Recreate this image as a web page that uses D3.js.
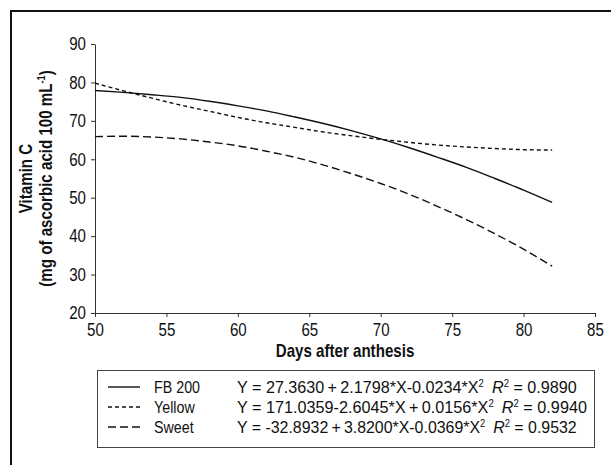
<!DOCTYPE html>
<html>
<head>
<meta charset="utf-8">
<script src="https://cdn.jsdelivr.net/npm/d3@7"></script>
<style>
    body { margin: 0; background: white; }
    svg { display: block; font-family: 'Liberation Sans', Arial, sans-serif; }
    .axis path, .axis line { stroke: #333; }
    .axis text { font-size: 18px; fill: #111; }
    .title { font-size: 18px; font-weight: bold; fill: #111; }
    .legend text { font-size: 17px; fill: #111; }
</style>
</head>
<body>
<div id="chart"></div>
<script>
var days = [50, 52, 54, 56, 58, 60, 62, 64, 66, 68, 70, 72, 74, 76, 78, 80, 82]
var fb200 = [77.9, 77.4, 76.8, 76.1, 75.1, 73.9, 72.6, 71.0, 69.3, 67.4, 65.3, 63.0, 60.5, 57.9, 55.0, 52.0, 48.8]
var yellow = [79.8, 77.8, 75.9, 74.1, 72.5, 70.9, 69.5, 68.3, 67.1, 66.1, 65.2, 64.4, 63.7, 63.2, 62.8, 62.5, 62.4]
var sweet = [65.9, 66.0, 65.8, 65.3, 64.5, 63.5, 62.1, 60.5, 58.5, 56.2, 53.7, 50.9, 47.7, 44.3, 40.6, 36.6, 32.2]

var xTicks = [50, 55, 60, 65, 70, 75, 80, 85]
var yTicks = [20, 30, 40, 50, 60, 70, 80, 90]

var seriesNames = ['FB 200', 'Yellow', 'Sweet']
var seriesValues = [fb200, yellow, sweet]
var dashes = ['none', '4,3', '8,4']
var equations = [
    ['27.3630\u2009+\u20092.1798*X-0.0234*X', '0.9890'],
    ['171.0359-2.6045*X\u2009+\u20090.0156*X', '0.9940'],
    ['-32.8932\u2009+\u20093.8200*X-0.0369*X', '0.9532']
]

var width = 611, height = 465
var narrow = 0.84 // no condensed font installed, squeeze glyphs instead

var svg = d3.select('#chart').append('svg')
    .attr('width', width)
    .attr('height', height)

svg.append('rect')
    .attr('width', width)
    .attr('height', height)
    .attr('fill', 'white')

// outer frame, runs off the right and bottom edges
svg.append('rect')
    .attr('x', 11)
    .attr('y', 11)
    .attr('width', 640)
    .attr('height', 490)
    .attr('fill', 'none')
    .attr('stroke', '#111')
    .attr('stroke-width', 2)

var x = d3.scaleLinear().domain([50, 85]).range([95, 595])
var y = d3.scaleLinear().domain([20, 90]).range([313, 44])

function squeeze(texts) {
    texts.each(function () {
        var x0 = +this.getAttribute('x') || 0
        this.setAttribute('transform', 'translate(' + x0 + ',0) scale(' + narrow + ',1) translate(' + (-x0) + ',0)')
    })
}

svg.append('g')
    .attr('class', 'axis')
    .attr('transform', 'translate(0,' + y(20) + ')')
    .call(d3.axisBottom(x).tickValues(xTicks).tickSize(4).tickPadding(6).tickSizeOuter(0))

svg.append('g')
    .attr('class', 'axis')
    .attr('transform', 'translate(' + x(50) + ',0)')
    .call(d3.axisLeft(y).tickValues(yTicks).tickSize(4).tickPadding(5).tickSizeOuter(0))

svg.selectAll('.axis').attr('font-family', null).attr('font-size', null)
squeeze(svg.selectAll('.axis text'))

svg.append('text')
    .attr('class', 'title')
    .attr('text-anchor', 'middle')
    .attr('transform', 'translate(' + (x(50) + x(85)) / 2 + ',357) scale(' + narrow + ',1)')
    .text('Days after anthesis')

var yTitle = svg.append('text')
    .attr('class', 'title')
    .attr('text-anchor', 'middle')
    .attr('transform', 'translate(32,' + (y(20) + y(90)) / 2 + ') rotate(-90) scale(' + narrow + ',1)')
yTitle.append('tspan').attr('x', 0).attr('dy', 0).text('Vitamin C')
var sub = yTitle.append('tspan').attr('x', 0).attr('dy', 20).text('(mg of ascorbic acid 100 mL')
sub.append('tspan').attr('dy', -7).attr('font-size', 11).text('-1')
sub.append('tspan').attr('dy', 7).text(')')

var line = d3.line()
    .x(function (d, i) { return x(days[i]) })
    .y(function (d) { return y(d) })
    .curve(d3.curveMonotoneX)

svg.append('g').selectAll('path')
    .data(seriesValues)
    .join('path')
    .attr('d', line)
    .attr('fill', 'none')
    .attr('stroke', '#111')
    .attr('stroke-width', 1.4)
    .attr('stroke-dasharray', function (d, i) { return dashes[i] })

var legend = svg.append('g').attr('class', 'legend')

legend.append('rect')
    .attr('x', 97.5)
    .attr('y', 370.5)
    .attr('width', 497)
    .attr('height', 77)
    .attr('fill', 'white')
    .attr('stroke', '#444')
    .attr('stroke-width', 1)

var eqStart = 237
var eqEnds = [577, 587, 577]

seriesNames.forEach(function (name, i) {
    var cy = 387 + i * 20
    legend.append('line')
        .attr('x1', 108).attr('x2', 140)
        .attr('y1', cy).attr('y2', cy)
        .attr('stroke', '#111')
        .attr('stroke-width', 1.4)
        .attr('stroke-dasharray', dashes[i])
    legend.append('text')
        .attr('transform', 'translate(154,' + (cy + 6) + ') scale(' + narrow + ',1)')
        .text(name)
    var eq = legend.append('text')
    eq.append('tspan').text('Y = ' + equations[i][0])
    eq.append('tspan').attr('dy', -6).attr('font-size', 10).text('2')
    eq.append('tspan').attr('dy', 6).text('\u2002')
    eq.append('tspan').attr('font-style', 'italic').text('R')
    eq.append('tspan').attr('dy', -6).attr('font-size', 10).text('2')
    eq.append('tspan').attr('dy', 6).text(' = ' + equations[i][1])
    var w = eq.node().getBBox().width
    eq.attr('transform', 'translate(' + eqStart + ',' + (cy + 6) + ') scale(' + ((eqEnds[i] - eqStart) / w) + ',1)')
})
</script>
</body>
</html>
